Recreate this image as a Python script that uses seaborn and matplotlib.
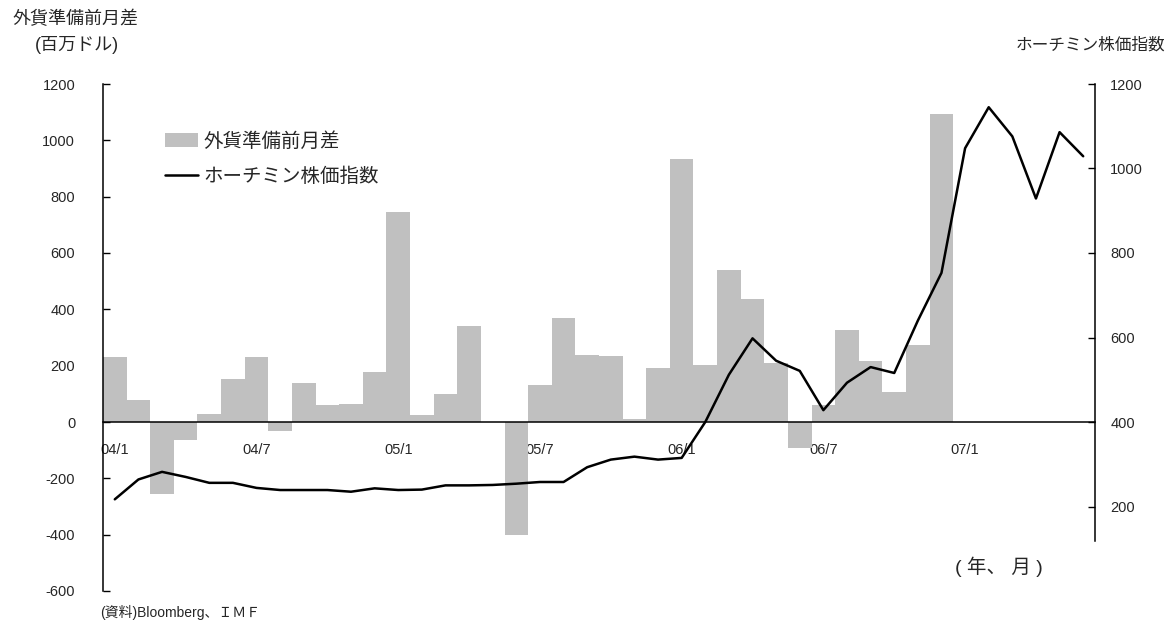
import matplotlib
matplotlib.use("Agg")
import matplotlib.pyplot as plt
import seaborn as sns
import numpy as np
import pandas as pd

# ---------------- data ----------------
months = ["04/1", "04/2", "04/3", "04/4", "04/5", "04/6", "04/7", "04/8", "04/9", "04/10", "04/11", "04/12",
          "05/1", "05/2", "05/3", "05/4", "05/5", "05/6", "05/7", "05/8", "05/9", "05/10", "05/11", "05/12",
          "06/1", "06/2", "06/3", "06/4", "06/5", "06/6", "06/7", "06/8", "06/9", "06/10", "06/11", "06/12",
          "07/1", "07/2", "07/3", "07/4", "07/5", "07/6"]

# 外貨準備前月差 (百万ドル), 04/1 - 06/12
reserve_diff = [230, 78, -255, -65, 28, 152, 230, -32, 138, 60, 64, 177,
                747, 25, 100, 340, 0, -400, 132, 370, 238, 234, 10, 192,
                935, 202, 540, 437, 209, -92, 62, 327, 217, 107, 273, 1095]

# ホーチミン株価指数, 04/1 - 07/6
hcm_index = [217, 264, 282, 270, 256, 256, 244, 239, 239, 239, 235, 243,
             239, 240, 250, 250, 251, 254, 258, 258, 293, 311, 318, 311,
             315, 400, 512, 598, 545, 521, 428, 493, 530, 516, 640, 753,
             1048, 1145, 1076, 929, 1086, 1029]

tick_labels = ["04/1", "04/7", "05/1", "05/7", "06/1", "06/7", "07/1"]
left_ticks = [-600, -400, -200, 0, 200, 400, 600, 800, 1000, 1200]
right_ticks = [200, 400, 600, 800, 1000, 1200]

bar_label = "外貨準備前月差"
line_label = "ホーチミン株価指数"

# ---------------- style ----------------
sns.set_style("white")
plt.rcParams["font.family"] = ["Liberation Sans", "Noto Sans CJK JP", "DejaVu Sans"]
plt.rcParams["axes.unicode_minus"] = False

W, H = 1168, 621
fig = plt.figure(figsize=(W / 100, H / 100), dpi=100)
L, R, T, B = 103, 1095, 84, 591
ax = fig.add_axes([L / W, 1 - B / H, (R - L) / W, (B - T) / H])

bar_df = pd.DataFrame({"pos": np.arange(len(reserve_diff)), "val": reserve_diff})
sns.barplot(data=bar_df, x="pos", y="val", native_scale=True, width=1.0,
            color="#c0c0c0", saturation=1, errorbar=None, linewidth=0, ax=ax)

ax2 = ax.twinx()
line_df = pd.DataFrame({"pos": np.arange(len(hcm_index)), "val": hcm_index})
sns.lineplot(data=line_df, x="pos", y="val", color="black", linewidth=1.8, ax=ax2)

ax.set_xlim(-0.5, len(months) - 0.5)
ax.set_ylim(-600, 1200)
ax2.set_ylim(0, 1200)
ax.set_xlabel("")
ax.set_ylabel("")
ax2.set_xlabel("")
ax2.set_ylabel("")

# spines
for s in ["top", "right"]:
    ax.spines[s].set_visible(False)
for s in ["top", "left", "bottom"]:
    ax2.spines[s].set_visible(False)
ax.spines["bottom"].set_position(("data", 0))
for sp in [ax.spines["bottom"], ax.spines["left"], ax2.spines["right"]]:
    sp.set_color("black")
    sp.set_linewidth(1.1)
ax2.spines["right"].set_bounds(118, 1200)

# x ticks: boundaries every 2 months (major, unlabeled) + labels at month centers (minor)
ax.set_xticks(np.arange(1.5, len(months) - 1, 2))
ax.set_xticklabels([])
label_pos = [months.index(t) for t in tick_labels]
ax.set_xticks(label_pos, minor=True)
ax.set_xticklabels(tick_labels, minor=True)
ax.tick_params(axis="x", which="major", direction="in", length=5, width=1, color="black")
ax.tick_params(axis="x", which="minor", length=0, pad=15, labelsize=10.5)

ax.set_yticks(left_ticks)
ax.set_yticklabels([str(v) for v in left_ticks])
ax.tick_params(axis="y", direction="in", length=5, width=1, color="black", pad=20, labelsize=10.5)
ax.yaxis.set_ticks_position("left")

ax2.set_yticks(right_ticks)
ax2.set_yticklabels([str(v) for v in right_ticks])
ax2.tick_params(axis="y", direction="in", length=5, width=1, color="black", pad=11, labelsize=10.5)
ax2.grid(False)
ax.grid(False)

# legend
handles = [ax.patches[0], ax2.lines[0]]
leg = ax2.legend(handles, [bar_label, line_label], loc="upper left",
                 bbox_to_anchor=((165 - L) / (R - L), (B - 132) / (B - T)),
                 frameon=False, fontsize=14, handlelength=1.7, handleheight=0.7,
                 handletextpad=0.3, labelspacing=0.86, borderpad=0, borderaxespad=0)

# texts
fig.text(12 / W, 1 - 19 / H, "外貨準備前月差", ha="left", va="center", fontsize=13)
fig.text(35 / W, 1 - 45 / H, "(百万ドル)", ha="left", va="center", fontsize=13)
fig.text(1165 / W, 1 - 45 / H, "ホーチミン株価指数", ha="right", va="center", fontsize=12)
fig.text(999 / W, 1 - 567 / H, "( 年、 月 )", ha="center", va="center", fontsize=14)
fig.text(100 / W, 1 - 612 / H, "(資料)Bloomberg、ＩＭＦ", ha="left", va="center", fontsize=10)

fig.savefig("out.png", dpi=100)
